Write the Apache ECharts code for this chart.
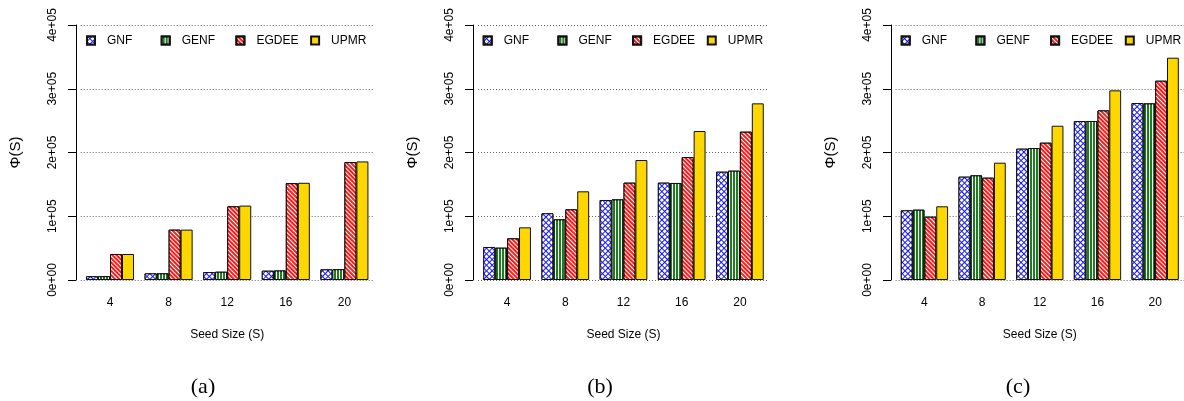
<!DOCTYPE html>
<html>
<head>
<meta charset="utf-8">
<script src="https://cdn.jsdelivr.net/npm/echarts@6/dist/echarts.min.js"></script>
<style>
  html, body { margin: 0; padding: 0; background: #fff; }
  #chart { width: 1184px; height: 401px; }
</style>
</head>
<body>
<div id="chart"></div>
<script>
// data
const categories = ['4', '8', '12', '16', '20'];
const seriesNames = ['GNF', 'GENF', 'EGDEE', 'UPMR'];
const yTickLabels = ['0e+00', '1e+05', '2e+05', '3e+05', '4e+05'];
const captions = ['(a)', '(b)', '(c)'];

// panel (a)
const gnfA = [6000, 10500, 12500, 14600, 16700];
const genfA = [6000, 10500, 13000, 15000, 17000];
const egdeeA = [40800, 79000, 115600, 152000, 185000];
const upmrA = [40800, 79000, 116700, 152500, 186000];
// panel (b)
const gnfB = [51800, 104600, 125500, 152700, 169900];
const genfB = [50700, 95200, 126500, 152200, 171500];
const egdeeB = [65400, 110900, 152700, 192900, 232700];
const upmrB = [82600, 139100, 188200, 233700, 277100];
// panel (c)
const gnfC = [109300, 162100, 206000, 249400, 277600];
const genfC = [110300, 164200, 207000, 249400, 277100];
const egdeeC = [99300, 160500, 215400, 266100, 312600];
const upmrC = [115600, 184000, 242000, 297500, 348700];

const panelData = [
  [gnfA, genfA, egdeeA, upmrA],
  [gnfB, genfB, egdeeB, upmrB],
  [gnfC, genfC, egdeeC, upmrC]
];

// layout of the three panels
const panels = [
  { left: 80.7, width: 293, axisX: 76, legendX: 86, caption: 198 },
  { left: 478, width: 291, axisX: 473, legendX: 482.7, caption: 595 },
  { left: 895.6, width: 291.4, axisX: 891, legendX: 900.7, caption: 1013 }
];
const gridTop = 25;
const gridHeight = 255;
const font = '"Liberation Sans", Arial, sans-serif';

// fill + hatch per method
const styles = {
  GNF: {
    color: '#1414ff',
    decal: { color: '#ffffff', symbol: 'rect', symbolSize: 1, dashArrayX: [3, 1], dashArrayY: [3, 1], rotation: Math.PI / 4 }
  },
  GENF: {
    color: '#1e7d1e',
    decal: { color: '#ffffff', symbol: 'rect', symbolSize: 1, dashArrayX: [1, 2], dashArrayY: [1, 0] }
  },
  EGDEE: {
    color: '#ff1a1a',
    decal: { color: '#ffffff', symbol: 'rect', symbolSize: 1, dashArrayX: [1, 0], dashArrayY: [1, 2], rotation: Math.PI / 4 }
  },
  UPMR: { color: '#ffd700' }
};

const chart = echarts.init(document.getElementById('chart'));

const grid = [], xAxis = [], yAxis = [], series = [], legend = [], title = [];

panels.forEach((p, i) => {
  grid.push({ left: p.left, width: p.width, top: gridTop, height: gridHeight });

  xAxis.push({
    type: 'category',
    gridIndex: i,
    data: categories,
    axisLine: { show: false },
    axisTick: { show: false },
    axisLabel: { margin: 17, color: '#000', fontSize: 12, fontFamily: font },
    name: 'Seed Size (S)',
    nameLocation: 'middle',
    nameGap: 49,
    nameTextStyle: { color: '#000', fontSize: 12, fontFamily: font }
  });

  yAxis.push({
    type: 'value',
    gridIndex: i,
    min: 0,
    max: 400000,
    interval: 100000,
    offset: p.left - p.axisX,
    axisLine: { show: true, lineStyle: { color: '#000', width: 1 } },
    axisTick: { show: true, length: 8, lineStyle: { color: '#000', width: 1 } },
    axisLabel: {
      rotate: 90,
      margin: 17,
      color: '#000',
      fontSize: 12,
      fontFamily: font,
      formatter: v => yTickLabels[Math.round(v / 100000)]
    },
    splitLine: { show: true, lineStyle: { color: '#666', type: [1, 2], width: 1 } },
    name: 'Φ(S)',
    nameLocation: 'middle',
    nameRotate: 90,
    nameGap: 53,
    nameTextStyle: { color: '#000', fontSize: 15, fontFamily: font }
  });

  seriesNames.forEach((name, k) => {
    const s = styles[name];
    series.push({
      name: name,
      type: 'bar',
      xAxisIndex: i,
      yAxisIndex: i,
      data: panelData[i][k],
      barGap: '0%',
      barCategoryGap: '18%',
      itemStyle: {
        color: s.color,
        decal: s.decal || null,
        borderColor: '#111',
        borderWidth: 1
      },
      emphasis: { disabled: true }
    });

    // one legend per entry so the spacing is even
    legend.push({
      left: p.legendX + k * 74.7,
      top: 34.5,
      padding: 0,
      icon: 'rect',
      itemWidth: 8,
      itemHeight: 8,
      data: [name],
      textStyle: { color: '#000', fontSize: 12, fontFamily: font, padding: [0, 0, 0, 7] }
    });
  });

  title.push({
    text: captions[i],
    left: p.caption,
    top: 371,
    textAlign: 'center',
    textStyle: { color: '#000', fontSize: 22, fontWeight: 'normal', fontFamily: '"Liberation Serif", "DejaVu Serif", serif' }
  });
});

chart.setOption({
  animation: false,
  title: title,
  legend: legend,
  grid: grid,
  xAxis: xAxis,
  yAxis: yAxis,
  series: series
});
</script>
</body>
</html>
